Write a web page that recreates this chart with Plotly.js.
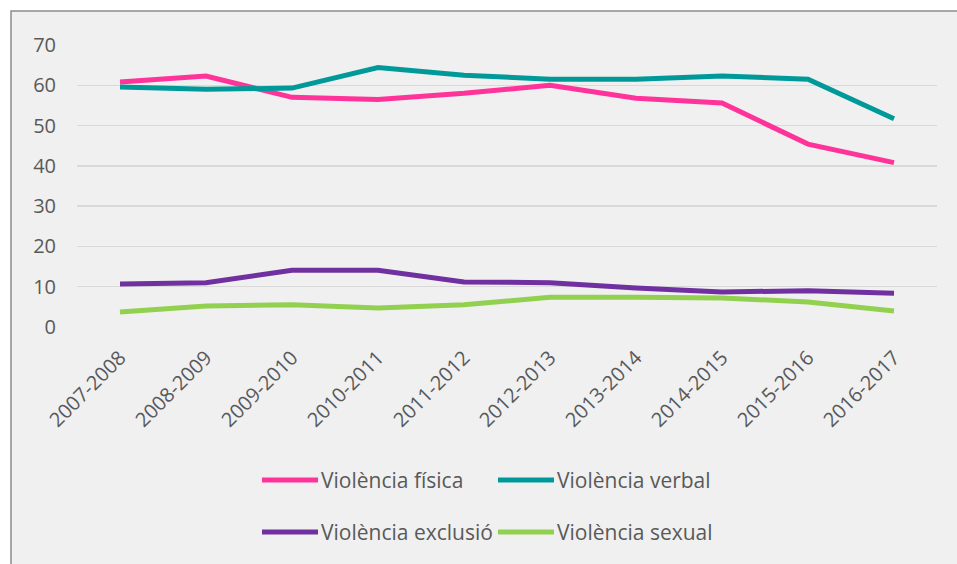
<!DOCTYPE html>
<html>
<head>
<meta charset="utf-8">
<script src="https://cdn.plot.ly/plotly-3.0.1.min.js"></script>
<style>html,body{margin:0;padding:0;background:#fff;}#chart{width:957px;height:564px;}</style>
</head>
<body>
<div id="chart"></div>
<script>
const categories = ["2007-2008","2008-2009","2009-2010","2010-2011","2011-2012","2012-2013","2013-2014","2014-2015","2015-2016","2016-2017"];
const fisica   = [60.8, 62.3, 57.0, 56.5, 58.0, 60.0, 56.8, 55.6, 45.4, 40.8];
const verbal   = [59.6, 59.0, 59.3, 64.4, 62.5, 61.5, 61.5, 62.3, 61.5, 51.7];
const exclusio = [10.7, 11.0, 14.1, 14.1, 11.2, 11.0, 9.7, 8.7, 9.0, 8.4];
const sexual   = [3.7, 5.2, 5.5, 4.7, 5.5, 7.4, 7.4, 7.2, 6.2, 4.0];
const seriesNames = ["Violència física","Violència verbal","Violència exclusió","Violència sexual"];
const colors = ["#ff3399","#009999","#7030a0","#92d050"];
const FONT = "Open Sans, Liberation Sans, sans-serif";

const data = [fisica, verbal, exclusio, sexual].map((vals, i) => ({
  type: "scatter", mode: "lines", x: categories, y: vals, name: seriesNames[i],
  line: {color: colors[i], width: 5}, showlegend: false
}));

// plot area geometry (pixels) used to place the custom legend
const L = 77, R = 937, T = 45, B = 327;
const px2x = p => (p - L) / (R - L);
const px2y = p => (B - p) / (B - T);

// legend: 2 columns x 2 rows
const legCols = [262, 498];   // line start pixel per column
const legRows = [480, 532];   // row centre pixel
const shapes = [{type: "rect", xref: "paper", yref: "paper", x0: px2x(11), x1: px2x(962), y0: px2y(570), y1: px2y(11),
    fillcolor: "#f0f0f0", line: {color: "#8c8c8c", width: 1.5}, layer: "below"}];
const annotations = [];
seriesNames.forEach((nm, i) => {
  const cx = legCols[i % 2], cy = legRows[Math.floor(i / 2)];
  shapes.push({type: "line", xref: "paper", yref: "paper", x0: px2x(cx), x1: px2x(cx + 56), y0: px2y(cy), y1: px2y(cy),
    line: {color: colors[i], width: 5}});
  annotations.push({xref: "paper", yref: "paper", x: px2x(cx + 57), y: px2y(cy), xanchor: "left", yanchor: "middle",
    text: nm, showarrow: false, font: {family: FONT, size: 21, color: "#595959"}});
});

const layout = {
  width: 957, height: 564,
  margin: {l: L, r: 957 - R, t: T, b: 564 - B},
  paper_bgcolor: "#ffffff",
  plot_bgcolor: "rgba(0,0,0,0)",
  font: {family: FONT, color: "#595959", size: 20},
  xaxis: {type: "category", range: [-0.5, 9.5], tickangle: -45, showgrid: false, zeroline: false, showline: false,
    ticks: "", tickfont: {size: 20, color: "#595959"}, ticklabelstandoff: 14},
  yaxis: {range: [0, 70], dtick: 10, showgrid: true, gridcolor: "#d9d9d9", gridwidth: 1.5, zeroline: false, showline: false,
    ticks: "", tickfont: {size: 20, color: "#595959"}, ticklabelstandoff: 20},
  shapes: shapes,
  annotations: annotations,
  showlegend: false
};

Plotly.newPlot("chart", data, layout, {displayModeBar: false, staticPlot: true});
</script>
</body>
</html>
